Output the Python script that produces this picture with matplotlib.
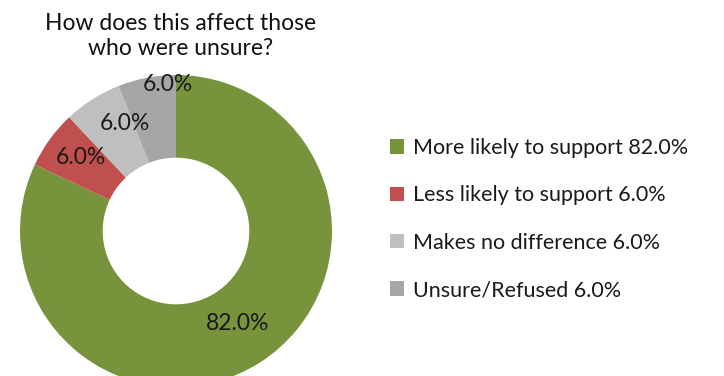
import numpy as np
import matplotlib.pyplot as plt

# donut data
categorias = ["More likely to support", "Less likely to support", "Makes no difference", "Unsure/Refused"]
valores = [82.0, 6.0, 6.0, 6.0]
cores = ["#77933C", "#C0504D", "#BFBFBF", "#A6A6A6"]
titulo = "How does this affect those\nwho were unsure?"

plt.rcParams['font.family'] = ['Lato', 'DejaVu Sans']

fig = plt.figure(figsize=(7.24, 3.76), dpi=100)
# raio de 156 px, centro em (176, 231) a partir do topo
ax = fig.add_axes([20/724, -11/376, 312/724, 312/376])

wedges, textos, pcts = ax.pie(valores, colors=cores, startangle=90, counterclock=False,
                              radius=1.0, wedgeprops=dict(width=0.53, linewidth=0),
                              autopct="%.1f%%", pctdistance=0.74,
                              textprops=dict(fontsize=16.5, color="#1a1a1a"))
ax.set_xlim(-1, 1)
ax.set_ylim(-1, 1)
ax.set_aspect('equal')
ax.axis('off')

# ajuste fino das posicoes dos rotulos (raio, desvio de angulo)
ajustes = [(0.71, 1.4), (0.77, -1.9), (0.765, -7.1), (0.94, -7.7)]
for w, t, (r, da) in zip(wedges, pcts, ajustes):
    ang = np.deg2rad((w.theta1 + w.theta2) / 2 + da)
    t.set_position((r * np.cos(ang), r * np.sin(ang)))

fig.text(181/724, 1 - 36/376, titulo, ha='center', va='center', fontsize=16.5,
         linespacing=1.25, color="#111111")

rotulos = [f"{c} {v:.1f}%" for c, v in zip(categorias, valores)]
leg = fig.legend(wedges, rotulos, loc='center left', bbox_to_anchor=(371/724, 1 - 219/376),
                 frameon=False, fontsize=15.5, labelspacing=1.27, handlelength=0.65,
                 handleheight=0.65, handletextpad=0.4)
for t in leg.get_texts():
    t.set_color("#1a1a1a")

plt.savefig("out.png", dpi=100)
plt.close()
